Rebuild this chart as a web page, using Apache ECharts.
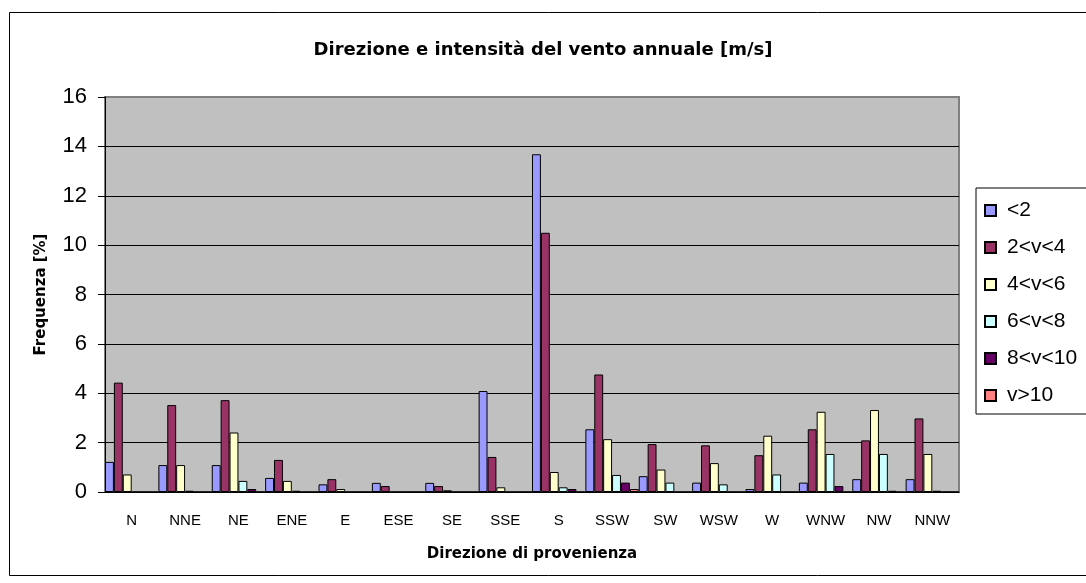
<!DOCTYPE html>
<html>
<head>
<meta charset="utf-8">
<script src="https://cdn.jsdelivr.net/npm/echarts@6/dist/echarts.min.js"></script>
<style>
  html, body { margin: 0; padding: 0; background: #fff; }
  #chart { width: 1086px; height: 583px; }
</style>
</head>
<body>
<div id="chart"></div>
<script>
// direzioni di provenienza
const directions = ['N', 'NNE', 'NE', 'ENE', 'E', 'ESE', 'SE', 'SSE', 'S', 'SSW', 'SW', 'WSW', 'W', 'WNW', 'NW', 'NNW']
const classNames = ['<2', '2<v<4', '4<v<6', '6<v<8', '8<v<10', 'v>10']

// frequenze [%]
const vLt2 = [1.22, 1.09, 1.09, 0.57, 0.31, 0.37, 0.37, 4.09, 13.68, 2.54, 0.64, 0.38, 0.12, 0.38, 0.52, 0.52]
const v2to4 = [4.43, 3.52, 3.72, 1.30, 0.52, 0.24, 0.24, 1.42, 10.5, 4.76, 1.94, 1.89, 1.49, 2.54, 2.09, 2.98]
const v4to6 = [0.71, 1.09, 2.41, 0.45, 0.12, 0, 0.07, 0.19, 0.81, 2.14, 0.91, 1.17, 2.28, 3.25, 3.32, 1.54]
const v6to8 = [0, 0.05, 0.45, 0.05, 0, 0, 0, 0, 0.19, 0.69, 0.38, 0.31, 0.71, 1.54, 1.54, 0.05]
const v8to10 = [0, 0, 0.12, 0, 0, 0, 0, 0, 0.12, 0.38, 0, 0, 0, 0.24, 0.05, 0]
const vGt10 = [0, 0, 0, 0, 0, 0, 0, 0, 0, 0.12, 0, 0, 0, 0, 0, 0]

const yTicks = [0, 2, 4, 6, 8, 10, 12, 14, 16]

const seriesData = [vLt2, v2to4, v4to6, v6to8, v8to10, vGt10]
const colors = ['#9999FF', '#993366', '#FFFFCC', '#CCFFFF', '#660066', '#FF8080']

const arial = "'Liberation Sans', Arial, sans-serif"
const boldFont = "'DejaVu Sans', Verdana, sans-serif"

const chart = echarts.init(document.getElementById('chart'))

const gridLineColors = yTicks.map((t, i) => i === yTicks.length - 1 ? '#808080' : '#000')

chart.setOption({
  animation: false,
  backgroundColor: '#fff',
  graphic: [{
    type: 'rect',
    left: 7,
    top: 10,
    shape: { width: 1100, height: 563 },
    style: { fill: 'none', stroke: '#000', lineWidth: 1 },
    z: -1
  }],
  title: {
    text: 'Direzione e intensità del vento annuale [m/s]',
    left: 'center',
    top: 36,
    textStyle: {
      fontFamily: boldFont,
      fontWeight: 'bold',
      fontSize: 18,
      color: '#000'
    }
  },
  legend: {
    orient: 'vertical',
    left: 976,
    top: 188,
    padding: [12, 40, 8, 8],
    borderColor: '#000',
    borderWidth: 1,
    itemWidth: 11,
    itemHeight: 11,
    itemGap: 16,
    icon: 'rect',
    data: classNames,
    textStyle: {
      fontFamily: arial,
      fontSize: 21,
      lineHeight: 20,
      color: '#000',
      padding: [0, 0, 0, 6]
    }
  },
  grid: {
    left: 105,
    right: 127,
    top: 97,
    bottom: 91,
    show: true,
    backgroundColor: '#C0C0C0',
    borderColor: '#808080',
    borderWidth: 2
  },
  xAxis: {
    type: 'category',
    data: directions,
    name: 'Direzione di provenienza',
    nameLocation: 'middle',
    nameGap: 55,
    nameTextStyle: {
      fontFamily: boldFont,
      fontWeight: 'bold',
      fontSize: 15,
      color: '#000'
    },
    axisLine: { lineStyle: { color: '#000', width: 1 } },
    axisTick: { length: 5, lineStyle: { color: '#000' } },
    axisLabel: {
      margin: 21,
      fontFamily: arial,
      fontSize: 15,
      color: '#000'
    }
  },
  yAxis: {
    type: 'value',
    min: yTicks[0],
    max: yTicks[yTicks.length - 1],
    interval: 2,
    name: 'Frequenza [%]',
    nameLocation: 'middle',
    nameRotate: 90,
    nameGap: 56,
    nameTextStyle: {
      fontFamily: boldFont,
      fontWeight: 'bold',
      fontSize: 15,
      color: '#000'
    },
    axisLine: { show: true, lineStyle: { color: '#000', width: 1 } },
    axisTick: { show: true, length: 7, lineStyle: { color: '#000' } },
    axisLabel: {
      margin: 18,
      fontFamily: arial,
      fontSize: 22,
      color: '#000'
    },
    splitLine: { lineStyle: { color: gridLineColors, width: 1 } }
  },
  series: seriesData.map((data, i) => ({
    name: classNames[i],
    type: 'bar',
    data: data,
    barGap: '0%',
    barCategoryGap: '0%',
    itemStyle: {
      color: colors[i],
      borderColor: '#000',
      borderWidth: 1
    }
  }))
})
</script>
</body>
</html>
